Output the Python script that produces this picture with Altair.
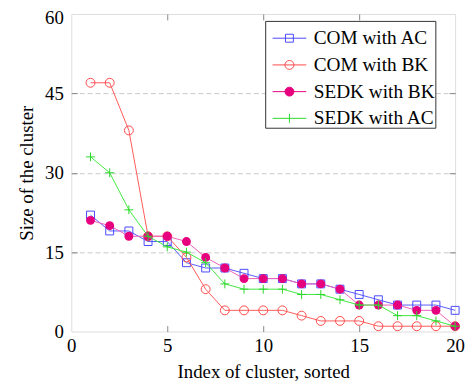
import altair as alt
import pandas as pd

# ---- data ----
idx = list(range(1, 21))
series_names = ["COM with AC", "COM with BK", "SEDK with BK", "SEDK with AC"]
com_ac = [22, 19, 19, 17, 17, 13, 12, 12, 11, 10, 10, 9, 9, 8, 7, 6, 5, 5, 5, 4]
com_bk = [47, 47, 38, 18, 18, 14, 8, 4, 4, 4, 4, 3, 2, 2, 2, 1, 1, 1, 1, 1]
sedk_bk = [21, 20, 18, 18, 18, 17, 14, 12, 10, 10, 10, 9, 9, 8, 5, 5, 5, 4, 4, 1]
sedk_ac = [33, 30, 23, 18, 16, 15, 13, 9, 8, 8, 8, 7, 7, 6, 5, 5, 3, 3, 2, 1]
x_ticks = [0, 5, 10, 15, 20]
y_ticks = [0, 15, 30, 45, 60]
inner_x = [5, 10, 15]
inner_y = [15, 30, 45]

# ---- styles ----
line_colors = ["#5a5aff", "#ff5a5a", "#f060b8", "#40e840"]
mark_colors = ["#4a4aff", "#ff4a4a", "#e6007e", "#2ad82a"]
mark_fills = ["transparent", "transparent", "#e6007e", "transparent"]
mark_shapes = ["square", "circle", "circle", "M-1,0H1M0,-1V1"]
mark_sizes = [64, 81, 81, 81]
# legend glyphs (size 1156 -> 34 px wide line with centred marker)
legend_shapes = [
    "M-1,0H1M-0.235,-0.235H0.235V0.235H-0.235Z",
    "M-1,0H1M0.265,0A0.265,0.265,0,1,1,-0.265,0A0.265,0.265,0,1,1,0.265,0Z",
    "M-1,0H1M0.265,0A0.265,0.265,0,1,1,-0.265,0A0.265,0.265,0,1,1,0.265,0Z",
    "M-1,0H1M0,-0.265V0.265",
]
FONT = "Liberation Serif"

rows = []
for name, vals in zip(series_names, [com_ac, com_bk, sedk_bk, sedk_ac]):
    for i, v in zip(idx, vals):
        rows.append({"idx": i, "size": v, "series": name})
df = pd.DataFrame(rows)

xscale = alt.Scale(domain=[0, 20], nice=False, zero=False)
yscale = alt.Scale(domain=[0, 60], nice=False)
base = alt.Chart(df)

layers = []
for name, lc, mc, mf, ms, msz in zip(series_names, line_colors, mark_colors,
                                     mark_fills, mark_shapes, mark_sizes):
    sub = base.transform_filter(alt.datum.series == name)
    enc = dict(
        x=alt.X("idx:Q", scale=xscale, axis=None),
        y=alt.Y("size:Q", scale=yscale, axis=None),
    )
    line = sub.mark_line(color=lc, strokeWidth=1).encode(**enc)
    if mf == "transparent":
        pts = sub.mark_point(shape=ms, size=msz, filled=False, color=mc,
                             strokeWidth=1, opacity=1).encode(**enc)
    else:
        pts = sub.mark_point(shape=ms, size=msz, filled=True, color=mc,
                             opacity=1).encode(**enc)
    layers += [line, pts]

# axis with labels and titles
axis_labels = base.mark_point(opacity=0).encode(
    x=alt.X("idx:Q", scale=xscale, axis=alt.Axis(
        orient="bottom", values=x_ticks, tickSize=0, domain=False, grid=False,
        labelPadding=5, labelFlush=False, labelFont=FONT, labelFontSize=19,
        labelColor="black", title="Index of cluster, sorted", titleFont=FONT,
        titleFontSize=19, titleFontWeight="normal", titleColor="black",
        titlePadding=7)),
    y=alt.Y("size:Q", scale=yscale, axis=alt.Axis(
        orient="left", values=y_ticks, tickSize=0, domain=False, grid=False,
        labelPadding=8, labelFlush=False, labelFont=FONT, labelFontSize=19,
        labelColor="black", title="Size of the cluster", titleFont=FONT,
        titleFontSize=19, titleFontWeight="normal", titleColor="black",
        titlePadding=8,
        labelOffset={"condition": {"test": "datum.value == 60", "value": 4}, "value": 0})),
)

tick_style = dict(tickSize=6, offset=-6, tickColor="#888888", tickWidth=1,
                  labels=False, domain=False, title=None)
axis_inner_a = base.mark_point(opacity=0).encode(
    x=alt.X("idx:Q", scale=xscale, axis=alt.Axis(
        orient="bottom", values=inner_x, grid=False, **tick_style)),
    y=alt.Y("size:Q", scale=yscale, axis=alt.Axis(
        orient="left", values=inner_y, grid=True, gridColor="#c8c8c8",
        gridDash=[5, 3], gridWidth=1, **tick_style)),
)
axis_inner_b = base.mark_point(opacity=0).encode(
    x=alt.X("idx:Q", scale=xscale, axis=alt.Axis(
        orient="top", values=inner_x, grid=False, **tick_style)),
    y=alt.Y("size:Q", scale=yscale, axis=alt.Axis(
        orient="right", values=inner_y, grid=False, **tick_style)),
)

legend = alt.Legend(
    title=None, orient="none", legendX=196, legendY=7, symbolSize=1156,
    symbolStrokeWidth=1, symbolOffset=7, labelFont=FONT, labelFontSize=19.5,
    labelColor="black", strokeColor="#333333", fillColor="white", padding=0,
    rowPadding=-10.7, labelOffset=7, labelLimit=300,
    labelExpr="datum.label + '\u00a0\u00a0'",
)
legend_layer = base.transform_filter("false").mark_point(
    filled=False, strokeWidth=1, opacity=1
).encode(
    x=alt.X("idx:Q", scale=xscale, axis=None),
    y=alt.Y("size:Q", scale=yscale, axis=None),
    color=alt.Color("series:N", scale=alt.Scale(domain=series_names, range=mark_colors), legend=legend),
    fill=alt.Fill("series:N", scale=alt.Scale(domain=series_names, range=mark_fills), legend=legend),
    shape=alt.Shape("series:N", scale=alt.Scale(domain=series_names, range=legend_shapes), legend=legend),
)

chart = alt.layer(
    axis_labels, axis_inner_a, axis_inner_b, *layers, legend_layer
).resolve_axis(
    x="independent", y="independent"
).properties(
    width=388, height=321,
    autosize=alt.AutoSizeParams(type="none"),
    padding={"left": 64, "top": 4, "right": 12, "bottom": 49},
).configure_view(
    stroke="#888888", strokeWidth=1.5
).configure(background="white")

chart.save("out.html", embed_options={"renderer": "svg", "actions": False})
